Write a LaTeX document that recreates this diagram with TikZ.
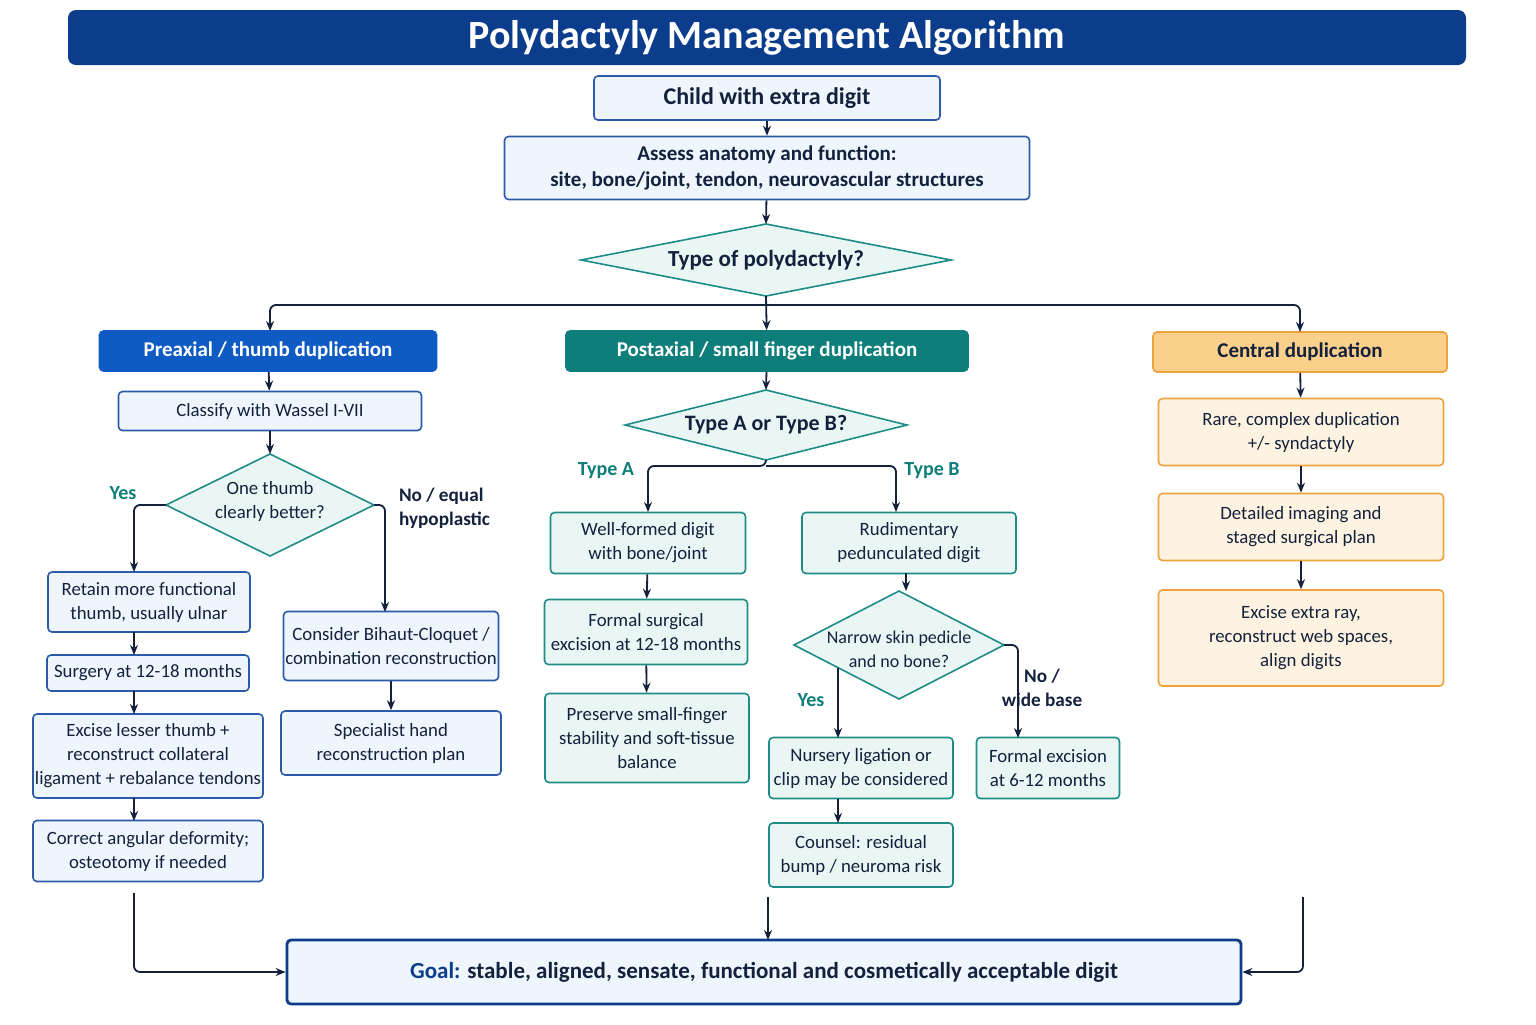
\documentclass[tikz,border=0pt]{standalone}
\usepackage{fontspec}
\setmainfont{Carlito}
\usetikzlibrary{arrows.meta}
\definecolor{navy}{HTML}{0B3D8C}
\definecolor{ink}{HTML}{14213D}
\definecolor{bborder}{HTML}{2B5BA8}
\definecolor{bfill}{HTML}{EEF5FD}
\definecolor{pre}{HTML}{0E5BC4}
\definecolor{teal}{HTML}{0E7E7A}
\definecolor{tfill}{HTML}{E9F6F4}
\definecolor{tborder}{HTML}{1E8C86}
\definecolor{ofill}{HTML}{FEF3E0}
\definecolor{oborder}{HTML}{EDA23C}
\definecolor{ohead}{HTML}{FBD08A}
\begin{document}
\begin{tikzpicture}[x=0.5pt,y=-0.5pt,
  every node/.style={font=\fontsize{9.4}{12}\selectfont, text=ink},
  bbox/.style={draw=bborder, fill=bfill, rounded corners=2pt, line width=0.8pt, align=center, inner sep=0pt},
  tbox/.style={bbox, draw=tborder, fill=tfill},
  obox/.style={bbox, draw=oborder, fill=ofill},
  dia/.style={draw=tborder, fill=tfill, line width=0.8pt},
  arr/.style={draw=ink, line width=0.9pt, rounded corners=3pt, -{Stealth[length=5pt,width=4pt]}},
  ln/.style={draw=ink, line width=0.9pt, rounded corners=3pt},
  lab/.style={font=\fontsize{10}{12}\selectfont\bfseries, text=teal},
  sz/.style 2 args={minimum width=#1*0.5pt, minimum height=#2*0.5pt}]
\useasboundingbox (0,0) rectangle (1536,1024);
\fill[white] (0,0) rectangle (1536,1024);
% title
\node[fill=navy, rounded corners=4pt, sz={1398}{55}, text=white, font=\fontsize{20}{22}\selectfont\bfseries] (title) at (767,37.5) {Polydactyly Management Algorithm};
\node[bbox, sz={346}{44}, font=\fontsize{12}{14}\selectfont\bfseries] (child) at (767,98) {Child with extra digit};
\node[bbox, sz={525}{63}, font=\fontsize{10.5}{13}\selectfont\bfseries] (assess) at (767,168) {Assess anatomy and function:\\site, bone/joint, tendon, neurovascular structures};
% diamond type
\draw[dia] (581,260) -- (766,224) -- (951,260) -- (766,296) -- cycle;
\node[font=\fontsize{11.5}{14}\selectfont\bfseries] (type) at (766,260) {Type of polydactyly?};
\coordinate (typeB) at (766,296);
% headers
\node[bbox, draw=pre, fill=pre, text=white, sz={337}{40}, font=\fontsize{10.5}{13}\selectfont\bfseries] (preax) at (268,351) {Preaxial / thumb duplication};
\node[bbox, draw=teal, fill=teal, text=white, sz={402}{40}, font=\fontsize{10.5}{13}\selectfont\bfseries] (postax) at (767,351) {Postaxial / small finger duplication};
\node[bbox, draw=oborder, fill=ohead, sz={294}{40}, font=\fontsize{10.5}{13}\selectfont\bfseries] (central) at (1300,352) {Central duplication};
\draw[arr] (typeB) -- (postax);
\draw[arr] (766,305) -| (270,331);
\draw[arr] (766,305) -| (1300,332);
\draw[arr] (child) -- (assess);
\draw[arr] (assess) -- (766,224);
% preaxial column
\node[bbox, sz={303}{39}] (classify) at (270,411) {Classify with Wassel I-VII};
\draw[dia] (166,505) -- (270,454) -- (374,505) -- (270,556) -- cycle;
\node[align=center] (thumb) at (270,501) {One thumb\\clearly better?};
\node[bbox, sz={202}{60}] (retain) at (149,602) {Retain more functional\\thumb, usually ulnar};
\node[bbox, sz={202}{36}] (surg) at (148,673) {Surgery at 12-18 months};
\node[bbox, sz={230}{84}] (excise) at (148,756) {Excise lesser thumb +\\reconstruct collateral\\ligament + rebalance tendons};
\node[bbox, sz={230}{61}] (correct) at (148,851) {Correct angular deformity;\\osteotomy if needed};
\node[bbox, sz={215}{69}] (bihaut) at (391,646) {Consider Bihaut-Cloquet /\\combination reconstruction};
\node[bbox, sz={220}{64}] (spec) at (391,743) {Specialist hand\\reconstruction plan};
\draw[arr] (preax) -- (classify);
\draw[arr] (classify) -- (270,454);
\draw[arr] (166,505) -| (134,572);
\draw[arr] (374,505) -| (385,612);
\node[lab] at (123,493) {Yes};
\node[align=left, anchor=west, font=\fontsize{9.6}{12}\selectfont\bfseries] at (392,508) {No / equal\\hypoplastic};
\draw[arr] (134,632) -- (134,655);
\draw[arr] (134,691) -- (134,714);
\draw[arr] (134,798) -- (134,821);
\draw[arr] (bihaut) -- (spec);
% postaxial column
\draw[dia] (625,425) -- (766,390) -- (907,425) -- (766,460) -- cycle;
\node[font=\fontsize{11}{13}\selectfont\bfseries] (ab) at (766,425) {Type A or Type B?};
\draw[arr] (postax) -- (766,390);
\node[tbox, sz={195}{61}] (well) at (648,543) {Well-formed digit\\with bone/joint};
\node[tbox, sz={203}{65}] (formal) at (646,632) {Formal surgical\\excision at 12-18 months};
\node[tbox, sz={204}{89}] (pres) at (647,738) {Preserve small-finger\\stability and soft-tissue\\balance};
\node[tbox, sz={214}{61}] (rud) at (909,543) {Rudimentary\\pedunculated digit};
\draw[arr] (766,460) -- (766,466) -| (648,512);
\draw[arr] (766,466) -| (896,512);
\node[lab] at (606,471) {Type A};
\node[lab] at (932,471) {Type B};
\draw[arr] (well) -- (formal);
\draw[arr] (formal) -- (pres);
\draw[dia] (794,645) -- (899,591) -- (1004,645) -- (899,699) -- cycle;
\node[align=center, font=\fontsize{9}{12}\selectfont] (narrow) at (899,649) {Narrow skin pedicle\\and no bone?};
\draw[arr] (906,573) -- (906,591);
\node[tbox, sz={184}{61}] (nurs) at (861,768) {Nursery ligation or\\clip may be considered};
\node[tbox, sz={143}{61}] (fex) at (1048,768) {Formal excision\\at 6-12 months};
\node[tbox, sz={184}{64}] (couns) at (861,855) {Counsel: residual\\bump / neuroma risk};
\draw[arr] (838,668) -- (838,738);
\node[lab] at (811,700) {Yes};
\draw[arr] (1004,645) -| (1018,738);
\node[align=center, font=\fontsize{9.6}{12}\selectfont\bfseries] at (1042,688) {No /\\wide base};
\draw[arr] (838,799) -- (838,823);
% central column
\node[obox, sz={285}{67}] (rare) at (1301,432) {Rare, complex duplication\\+/- syndactyly};
\node[obox, sz={285}{67}] (det) at (1301,527) {Detailed imaging and\\staged surgical plan};
\node[obox, sz={285}{96}] (exray) at (1301,638) {Excise extra ray,\\reconstruct web spaces,\\align digits};
\draw[arr] (central) -- (rare);
\draw[arr] (rare) -- (det);
\draw[arr] (det) -- (exray);
% goal
\node[bbox, draw=navy, line width=1.4pt, sz={954}{64}, font=\fontsize{11.5}{14}\selectfont] (goal) at (764,972) {\textbf{\color{navy}Goal:} \textbf{stable, aligned, sensate, functional and cosmetically acceptable digit}};
\coordinate (lstart) at (134,893);
\coordinate (mstart) at (768,897);
\coordinate (rstart) at (1303,897);
\draw[arr] (lstart) |- (goal.west);
\draw[arr] (mstart) -- (768,940);
\draw[arr] (rstart) |- (goal.east);
\end{tikzpicture}
\end{document}
